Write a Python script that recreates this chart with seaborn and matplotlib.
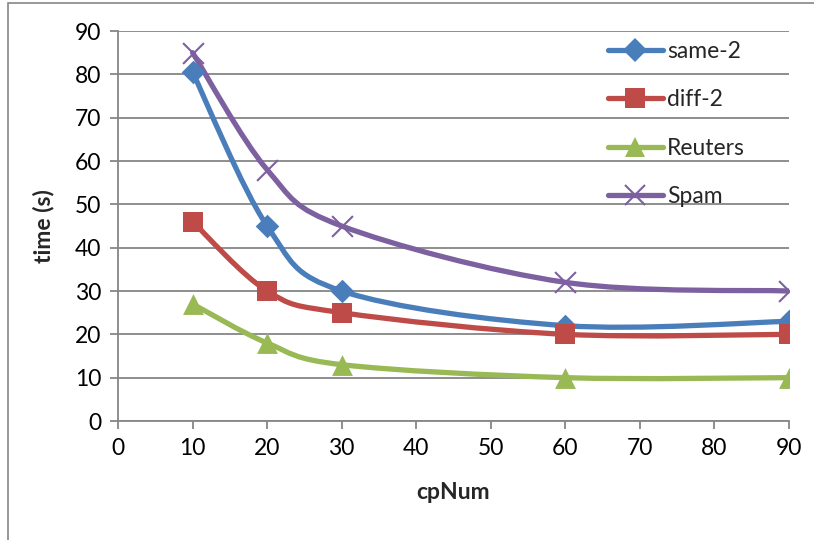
import numpy as np
import matplotlib
matplotlib.use("Agg")
import matplotlib.pyplot as plt
import seaborn as sns
from matplotlib.path import Path
from matplotlib.patches import PathPatch, Rectangle
from matplotlib.lines import Line2D

# data
cp_num = [10, 20, 30, 60, 90]
same_2 = [80.5, 45, 30, 22, 23]
diff_2 = [46, 30, 25, 20, 20]
reuters = [27, 18, 13, 10, 10]
spam = [85, 58, 45, 32, 30]

series_names = ["same-2", "diff-2", "Reuters", "Spam"]
series_values = [same_2, diff_2, reuters, spam]
colors = ["#4A7EBB", "#BE4B48", "#98B954", "#7D60A0"]
markers = ["D", "s", "^", "x"]
marker_sizes = [12, 14, 15, 15]

sns.set_style("white")
plt.rcParams["font.family"] = ["Lato", "DejaVu Sans"]

fig = plt.figure(figsize=(8.14, 5.40), dpi=100)
ax = fig.add_axes([118 / 814, 1 - 421 / 540, 671 / 814, 390 / 540])

# outer chart border (Excel chart area)
fig.patches.append(Rectangle((8 / 814, -0.05), 1.2, 1 - 3 / 540 + 0.05,
                             transform=fig.transFigure, fill=False,
                             edgecolor="#868686", lw=1.2))


def smooth_path(xs, ys):
    # Excel-style smoothed line: cubic bezier through the points
    pts = np.column_stack([xs, ys]).astype(float)
    ext = np.vstack([pts[0], pts, pts[-1]])
    verts = [pts[0]]
    codes = [Path.MOVETO]
    for i in range(len(pts) - 1):
        p0, p1, p2, p3 = ext[i], ext[i + 1], ext[i + 2], ext[i + 3]
        c1 = p1 + (p2 - p0) / 6.0
        c2 = p2 - (p3 - p1) / 6.0
        verts += [c1, c2, p2]
        codes += [Path.CURVE4] * 3
    return Path(verts, codes)


handles = []
for name, vals, col, mk, ms in zip(series_names, series_values, colors, markers, marker_sizes):
    ax.add_patch(PathPatch(smooth_path(cp_num, vals), fill=False, edgecolor=col,
                           lw=3.8, capstyle="round", joinstyle="round", zorder=3))
    if mk == "x":
        sns.scatterplot(x=cp_num, y=vals, marker="x", s=ms ** 2, color=col,
                        linewidth=1.5, ax=ax, zorder=4, legend=False)
    else:
        sns.scatterplot(x=cp_num, y=vals, marker=mk, s=ms ** 2, color=col,
                        edgecolor=col, linewidth=0, ax=ax, zorder=4, legend=False)
    handles.append(Line2D([0], [0], color=col, lw=3.8, marker=mk, markersize=ms,
                          markeredgewidth=1.5 if mk == "x" else 0,
                          markerfacecolor=col, markeredgecolor=col,
                          solid_capstyle="round"))

ax.set_xlim(0, 90)
ax.set_ylim(0, 90)
ax.set_xticks(range(0, 91, 10))
ax.set_yticks(range(0, 91, 10))
ax.yaxis.grid(True, color="#868686", lw=1.3)
ax.xaxis.grid(False)
ax.set_axisbelow(True)

for side in ["top", "right"]:
    ax.spines[side].set_visible(False)
for side in ["left", "bottom"]:
    ax.spines[side].set_color("#868686")
    ax.spines[side].set_linewidth(1.3)
ax.tick_params(axis="both", which="major", direction="out", length=6, width=1.3,
               color="#868686", labelsize=16.5, labelcolor="black", pad=6,
               left=True, bottom=True)

ax.set_xlabel("cpNum", fontsize=16.5, fontweight="bold", labelpad=17)
ax.set_ylabel("time (s)", fontsize=16.5, fontweight="bold", labelpad=15)

ax.legend(handles, series_names, loc="upper left", bbox_to_anchor=(0.716, 0.998),
          frameon=False, fontsize=16.5, handlelength=2.4, handletextpad=0.2,
          labelspacing=1.2, borderaxespad=0)

fig.savefig("out.png", dpi=100)
